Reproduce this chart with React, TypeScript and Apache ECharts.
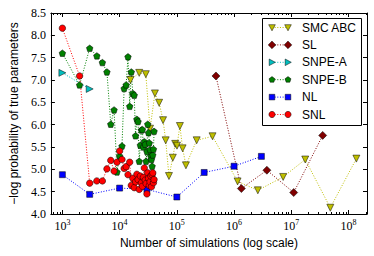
import React, { useEffect, useRef } from "react";
import * as echarts from "echarts";

// ---------- data ----------
const smcSims = [15500, 22000, 28700, 34000, 41400, 49000, 57400, 63800, 72800, 85000, 93500, 100500, 113000, 126000, 144000, 222000, 420000, 1150000, 2600000, 7200000, 17500000, 48000000, 137000000];
const smcValues = [7.0, 7.16, 7.13, 5.91, 6.7, 6.49, 6.1, 5.65, 4.85, 5.26, 5.57, 5.53, 5.97, 5.47, 5.09, 5.65, 5.74, 4.73, 4.53, 4.83, 5.22, 4.14, 5.24];

const slSims = [482000, 1340000, 3740000, 11000000, 35300000];
const slValues = [7.09, 4.57, 4.98, 4.48, 5.76];

const snpeASims = [1000, 3000];
const snpeAValues = [7.16, 6.8];

const roundSims = [1000, 2000, 3000, 4000, 5000, 6000, 7000, 8000, 9000, 10000, 11000, 12000, 13000, 14000, 15000, 16000, 17000, 18000, 19000, 20000, 21000, 22000, 23000, 24000, 25000, 26000, 27000, 28000, 29000, 30000, 31000, 32000, 33000, 34000, 35000, 36000, 37000, 38000, 39000, 40000];
const snpeBValues = [7.6, 6.89, 7.71, 7.54, 7.39, 7.18, 6.01, 6.33, 4.94, 5.3, 5.52, 6.81, 6.89, 7.52, 6.41, 7.18, 6.7, 6.66, 5.75, 6.12, 6.07, 5.18, 5.54, 5.88, 5.89, 5.5, 5.62, 5.56, 5.18, 5.4, 6.01, 5.82, 5.59, 5.44, 5.3, 5.22, 5.07, 5.32, 5.45, 5.85];

const nlSims = [1000, 3000, 10000, 30000, 100000, 300000, 1000000, 3000000];
const nlValues = [4.88, 4.44, 4.58, 4.55, 4.38, 4.93, 5.07, 5.29];

const snlValues = [8.16, 7.09, 4.69, 4.74, 4.74, 5.01, 5.2, 4.96, 5.16, 5.41, 5.22, 5.02, 5.06, 4.88, 5.16, 4.64, 4.8, 4.59, 4.72, 4.89, 4.77, 4.55, 4.85, 4.7, 4.62, 4.82, 5.03, 4.76, 4.68, 4.45, 4.92, 4.8, 4.64, 4.72, 4.85, 4.61, 4.88, 4.92, 4.7, 4.77];

const majorX = [1e3, 1e4, 1e5, 1e6, 1e7, 1e8];
const seriesNames = ["SMC ABC", "SL", "SNPE-A", "SNPE-B", "NL", "SNL"];
const colors = ["#bfbf00", "#800000", "#00bfbf", "#008000", "#0000ff", "#ff0000"];

const X_MIN = 630;
const X_MAX = 2.1e8;

const PENTAGON = "path://M0,-1 L0.951,-0.309 L0.588,0.809 L-0.588,0.809 L-0.951,-0.309 Z";

function minorTicks(): number[] {
  const out: number[] = [];
  for (let e = 2; e <= 8; e++) {
    for (let k = 2; k <= 9; k++) {
      const v = k * Math.pow(10, e);
      if (v >= X_MIN && v <= X_MAX) out.push(v);
    }
  }
  return out;
}

function legendMarker(kind: number, cx: number, cy: number, color: string): any {
  const style = { fill: color, stroke: "#000", lineWidth: 0.5 };
  switch (kind) {
    case 0:
      return { type: "polygon", shape: { points: [[cx - 3.3, cy - 2.8], [cx + 3.3, cy - 2.8], [cx, cy + 3.3]] }, style };
    case 1:
      return { type: "polygon", shape: { points: [[cx, cy - 3.8], [cx + 3.8, cy], [cx, cy + 3.8], [cx - 3.8, cy]] }, style };
    case 2:
      return { type: "polygon", shape: { points: [[cx - 2.8, cy - 3.3], [cx + 3.3, cy], [cx - 2.8, cy + 3.3]] }, style };
    case 3: {
      const pts: number[][] = [];
      for (let i = 0; i < 5; i++) {
        const a = -Math.PI / 2 + (i * 2 * Math.PI) / 5;
        pts.push([cx + 3.1 * Math.cos(a), cy + 3.1 * Math.sin(a)]);
      }
      return { type: "polygon", shape: { points: pts }, style };
    }
    case 4:
      return { type: "rect", shape: { x: cx - 2.8, y: cy - 2.8, width: 5.6, height: 5.6 }, style };
    default:
      return { type: "circle", shape: { cx, cy, r: 3.1 }, style };
  }
}

function buildLegend(): any[] {
  const els: any[] = [
    { type: "rect", shape: { x: 262.5, y: 18.5, width: 99, height: 107 }, style: { fill: "#fff", stroke: "#000", lineWidth: 1 }, z: 100 },
  ];
  seriesNames.forEach((name, i) => {
    const cy = 27.5 + i * 17.4;
    els.push({ type: "line", shape: { x1: 272, y1: cy, x2: 288, y2: cy }, style: { stroke: colors[i], lineWidth: 1, lineDash: [1, 1.65] }, z: 101 });
    els.push({ ...legendMarker(i, 272, cy, colors[i]), z: 102 });
    els.push({ ...legendMarker(i, 288, cy, colors[i]), z: 102 });
    els.push({
      type: "text",
      x: 302,
      y: cy,
      style: { text: name, fill: "#000", font: '12px "Liberation Sans"', verticalAlign: "middle", align: "left" },
      z: 102,
    });
  });
  return els;
}

const pairs = (xs: number[], ys: number[]) => xs.map((x, i) => [x, ys[i]]);

export default function App() {
  const ref = useRef<HTMLDivElement>(null);
  useEffect(() => {
    if (!ref.current) return;
    const chart = echarts.init(ref.current, null, { renderer: "svg" });
    const minors = minorTicks();
    const serifFont = "Liberation Serif";
    const baseX = {
      type: "log",
      logBase: 10,
      min: X_MIN,
      max: X_MAX,
      splitLine: { show: false },
      axisLine: { onZero: false },
    };
    const lineSeries = (i: number, data: number[][], symbol: string, size: number, rotate = 0) => ({
      name: seriesNames[i],
      type: "line",
      data,
      xAxisIndex: 0,
      yAxisIndex: 0,
      symbol,
      symbolSize: size,
      symbolRotate: rotate,
      showAllSymbol: true,
      itemStyle: { color: colors[i], borderColor: "#000", borderWidth: 0.5 },
      lineStyle: { color: colors[i], width: 1, type: [1, 1.65] },
      emphasis: { disabled: true },
    });
    const option: any = {
      animation: false,
      grid: { left: 44, right: 7, top: 13, bottom: 42 },
      xAxis: [
        {
          ...baseX,
          position: "bottom",
          axisLine: { show: true, onZero: false, lineStyle: { color: "#000", width: 1 } },
          axisTick: { show: true, inside: true, length: 4, customValues: majorX, lineStyle: { color: "#000" } },
          axisLabel: {
            customValues: majorX,
            margin: 4,
            formatter: (v: number) => `{b|10}{s|${Math.round(Math.log10(v))}}`,
            rich: {
              b: { fontFamily: serifFont, fontSize: 12, color: "#000", lineHeight: 15 },
              s: { fontFamily: serifFont, fontSize: 8, color: "#000", lineHeight: 15, verticalAlign: "top", padding: [0, 0, 6, 0] },
            },
          },
          name: "Number of simulations (log scale)",
          nameLocation: "middle",
          nameGap: 22,
          nameTextStyle: { fontFamily: "Liberation Sans", fontSize: 12, color: "#000" },
        },
        {
          ...baseX,
          position: "bottom",
          axisLine: { show: false, onZero: false },
          axisTick: { show: true, inside: true, length: 2, customValues: minors, lineStyle: { color: "#000" } },
          axisLabel: { show: false },
        },
        {
          ...baseX,
          position: "top",
          axisLine: { show: true, onZero: false, lineStyle: { color: "#000", width: 1 } },
          axisTick: { show: true, inside: true, length: 4, customValues: majorX, lineStyle: { color: "#000" } },
          axisLabel: { show: false },
        },
        {
          ...baseX,
          position: "top",
          axisLine: { show: false, onZero: false },
          axisTick: { show: true, inside: true, length: 2, customValues: minors, lineStyle: { color: "#000" } },
          axisLabel: { show: false },
        },
      ],
      yAxis: [
        {
          type: "value",
          min: 4,
          max: 8.5,
          interval: 0.5,
          position: "left",
          splitLine: { show: false },
          axisLine: { show: true, onZero: false, lineStyle: { color: "#000", width: 1 } },
          axisTick: { show: true, inside: true, length: 4, lineStyle: { color: "#000" } },
          axisLabel: { formatter: (v: number) => v.toFixed(1), fontFamily: serifFont, fontSize: 12, color: "#000", margin: 5 },
          name: "\u2212log probability of true parameters",
          nameLocation: "middle",
          nameGap: 28,
          nameTextStyle: { fontFamily: "Liberation Sans", fontSize: 12, color: "#000" },
        },
        {
          type: "value",
          min: 4,
          max: 8.5,
          interval: 0.5,
          position: "right",
          splitLine: { show: false },
          axisLine: { show: true, onZero: false, lineStyle: { color: "#000", width: 1 } },
          axisTick: { show: true, inside: true, length: 4, lineStyle: { color: "#000" } },
          axisLabel: { show: false },
        },
      ],
      series: [
        lineSeries(0, pairs(smcSims, smcValues), "triangle", 7, 180),
        lineSeries(1, pairs(slSims, slValues), "diamond", 8),
        lineSeries(2, pairs(snpeASims, snpeAValues), "triangle", 7, -90),
        lineSeries(3, pairs(roundSims, snpeBValues), PENTAGON, 6.5),
        lineSeries(4, pairs(nlSims, nlValues), "rect", 6),
        lineSeries(5, pairs(roundSims, snlValues), "circle", 6.5),
      ],
      graphic: buildLegend(),
    };
    chart.setOption(option);
    return () => chart.dispose();
  }, []);
  return <div ref={ref} style={{ position: "absolute", left: 0, top: 0, width: 374, height: 256 }} />;
}
